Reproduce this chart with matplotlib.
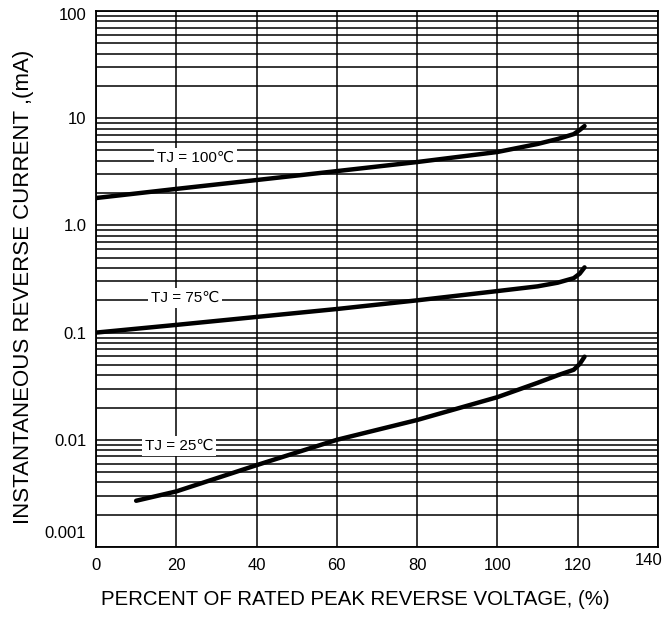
import numpy as np
import matplotlib
matplotlib.use("Agg")
import matplotlib.pyplot as plt
import matplotlib.transforms as mtransforms

plt.rcParams['font.family'] = ['Liberation Sans', 'DejaVu Sans']

# curves (percent of rated voltage, current in mA)
x_100 = [0, 20, 40, 60, 80, 100, 110, 115, 119, 120.5, 121.7]
i_100 = [1.8, 2.19, 2.65, 3.21, 3.9, 4.84, 5.75, 6.4, 7.1, 7.76, 8.45]

x_75 = [0, 20, 40, 60, 80, 100, 110, 115, 119, 120.5, 121.7]
i_75 = [0.1, 0.118, 0.14, 0.166, 0.2, 0.244, 0.27, 0.292, 0.322, 0.355, 0.406]

x_25 = [10, 20, 40, 60, 80, 100, 110, 115, 119, 120.5, 121.7]
i_25 = [0.0027, 0.0033, 0.0058, 0.010, 0.0153, 0.025, 0.034, 0.040, 0.045, 0.051, 0.0596]

curve_labels = ['TJ = 100\u2103', 'TJ = 75\u2103', 'TJ = 25\u2103']
label_x = [24.75, 22.25, 20.75]
label_y = [4.26, 0.21, 0.00875]

xticks = [0, 20, 40, 60, 80, 100, 120, 140]
yticks = [0.001, 0.01, 0.1, 1.0, 10, 100]
ytick_labels = ['0.001', '0.01', '0.1', '1.0', '10', '100']

fig = plt.figure(figsize=(6.64, 6.17), dpi=100)
ax = fig.add_axes([96 / 664, 70 / 617, 562 / 664, 536 / 617])

ax.set_yscale('log')
ax.set_xlim(0, 140)
ax.set_ylim(0.001, 100)

# grid: vertical every 20 %, horizontal at every log step
ax.set_xticks(xticks)
ax.set_yticks(yticks)
ax.set_yticklabels(ytick_labels)
ax.yaxis.set_minor_locator(matplotlib.ticker.LogLocator(base=10, subs=np.arange(2, 10)))
ax.yaxis.set_minor_formatter(matplotlib.ticker.NullFormatter())
ax.grid(True, which='major', axis='both', color='black', linewidth=1.1)
ax.grid(True, which='minor', axis='y', color='black', linewidth=1.1)
ax.tick_params(axis='both', which='both', length=0, labelsize=12)
ax.tick_params(axis='x', pad=8)
ax.tick_params(axis='y', pad=7)
for s in ax.spines.values():
    s.set_color('black')
    s.set_linewidth(1.3)

# small label offsets seen in the original
lab = ax.get_yticklabels()[0]
lab.set_transform(lab.get_transform() + mtransforms.ScaledTranslation(0, 15 / 100, fig.dpi_scale_trans))
lab = ax.get_yticklabels()[-1]
lab.set_transform(lab.get_transform() + mtransforms.ScaledTranslation(0, -3 / 100, fig.dpi_scale_trans))
lab = ax.get_xticklabels()[-1]
lab.set_transform(lab.get_transform() + mtransforms.ScaledTranslation(-9 / 100, 5 / 100, fig.dpi_scale_trans))

for xs, ys in [(x_100, i_100), (x_75, i_75), (x_25, i_25)]:
    ax.plot(xs, ys, color='black', linewidth=3.2, solid_capstyle='round', zorder=3)

for txt, lx, ly in zip(curve_labels, label_x, label_y):
    ax.text(lx, ly, txt, ha='center', va='center', fontsize=11, zorder=4,
            bbox=dict(facecolor='white', edgecolor='none', pad=2))

ax.set_xlabel('PERCENT OF RATED PEAK REVERSE VOLTAGE, (%)', fontsize=14.7, labelpad=12)
ax.xaxis.label.set_x(0.461)
ax.set_ylabel('INSTANTANEOUS REVERSE CURRENT ,(mA)', fontsize=16, labelpad=8)
ax.yaxis.label.set_y(0.485)

fig.savefig('out.png', dpi=100)
